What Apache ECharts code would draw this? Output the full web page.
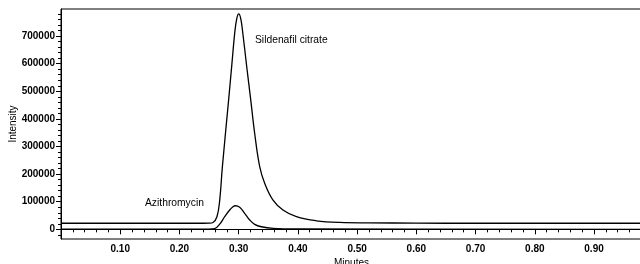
<!DOCTYPE html>
<html>
<head>
  <meta charset="UTF-8">
  <title>Chromatogram</title>
  <script src="https://cdn.jsdelivr.net/npm/echarts@6/dist/echarts.min.js"></script>
</head>
<body style="margin: 0">
<div id="container" style="width: 640px; height: 264px"></div>
<script type="text/javascript">
  // retention time (min) / intensity
  var sildenafil = [
    [0, 22000], [0.24, 22000], [0.25, 22500], [0.2566, 25000], [0.2633, 45700],
    [0.268, 106000], [0.2725, 227000], [0.283, 468000], [0.2886, 600000],
    [0.2935, 715000], [0.2968, 763000], [0.300, 780000], [0.3035, 763000],
    [0.307, 710000], [0.3136, 589000], [0.3204, 468000], [0.327, 348000],
    [0.3355, 227000], [0.3439, 167000], [0.358, 106000], [0.3748, 70000],
    [0.3975, 45700], [0.431, 31000], [0.4706, 25000], [0.52, 23500],
    [0.6, 22500], [0.7, 22000], [0.98, 22000]
  ];
  var azithromycin = [
    [0, 1000], [0.25, 1000], [0.2595, 2500], [0.268, 19000], [0.2764, 45700],
    [0.2848, 70000], [0.2904, 82000], [0.2944, 85500], [0.3017, 80000],
    [0.3101, 58000], [0.3186, 33700], [0.327, 18000], [0.3383, 9400],
    [0.358, 3600], [0.40, 1500], [0.98, 0]
  ];
  var yMajor = [0, 100000, 200000, 300000, 400000, 500000, 600000, 700000];
  var yMinor = [];
  for (var v = -20000; v <= 780000; v += 20000) yMinor.push(v);

  var chart = echarts.init(document.getElementById('container'), null, { renderer: 'canvas' });
  var font = 'Liberation Sans, Arial, sans-serif';

  var option = {
    animation: false,
    grid: {
      left: 61, top: 9, right: -2, bottom: 25,
      containLabel: false, outerBoundsMode: 'none',
      show: true, borderColor: '#000', borderWidth: 1
    },
    xAxis: {
      type: 'value',
      min: 0,
      max: 0.981,
      interval: 0.1,
      name: 'Minutes',
      nameLocation: 'middle',
      nameGap: 19,
      nameMoveOverlap: false,
      nameTextStyle: { color: '#000', fontSize: 10, fontFamily: font },
      axisLine: { lineStyle: { color: '#000', width: 1 } },
      axisTick: { length: 5, lineStyle: { color: '#000' } },
      minorTick: { show: true, splitNumber: 5, length: 3, lineStyle: { color: '#000' } },
      splitLine: { show: false },
      axisLabel: {
        color: '#000', fontSize: 10, fontWeight: 'bold', fontFamily: font, margin: 5,
        showMaxLabel: false,
        formatter: function (v) { return v === 0 ? '' : v.toFixed(2); }
      }
    },
    yAxis: [
      {
        type: 'value',
        min: -35000,
        max: 798000,
        name: 'Intensity',
        nameLocation: 'middle',
        nameGap: 43,
        nameMoveOverlap: false,
        nameRotate: 90,
        nameTextStyle: { color: '#000', fontSize: 10, fontFamily: font },
        axisLine: { show: true, lineStyle: { color: '#000', width: 1 } },
        axisTick: { show: true, length: 5, customValues: yMajor, lineStyle: { color: '#000' } },
        axisLabel: {
          color: '#000', fontSize: 10, fontWeight: 'bold', fontFamily: font, margin: 6,
          customValues: yMajor,
          formatter: function (v) { return String(v); }
        },
        splitLine: { show: false }
      },
      {
        type: 'value',
        position: 'left',
        min: -35000,
        max: 798000,
        axisLine: { show: false },
        axisTick: { show: true, length: 3, customValues: yMinor, lineStyle: { color: '#000' } },
        axisLabel: { show: false },
        splitLine: { show: false }
      }
    ],
    graphic: [
      { type: 'text', left: 255, top: 35, style: { text: 'Sildenafil citrate', fill: '#000', font: '10.3px ' + font } },
      { type: 'text', left: 145, top: 198, style: { text: 'Azithromycin', fill: '#000', font: '10.3px ' + font } }
    ],
    series: [
      {
        type: 'line',
        data: sildenafil,
        smooth: 0.4,
        showSymbol: false,
        lineStyle: { color: '#000', width: 1.3 }
      },
      {
        type: 'line',
        data: azithromycin,
        smooth: 0.4,
        showSymbol: false,
        lineStyle: { color: '#000', width: 1.3 }
      }
    ]
  };
  chart.setOption(option);
</script>
</body>
</html>
